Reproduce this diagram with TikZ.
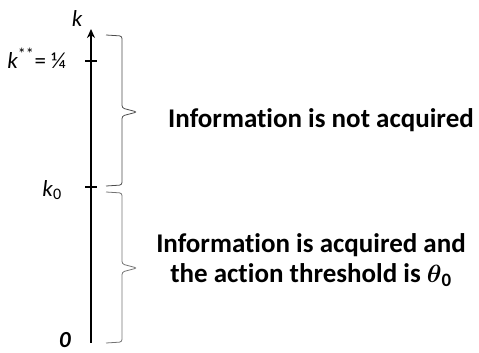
\documentclass[tikz,border=0pt]{standalone}
\usepackage{amsmath,amssymb}
\usepackage{fontspec}
\setmainfont{Carlito}[Ligatures=NoCommon]
\usetikzlibrary{arrows.meta}

\tikzset{
  axislab/.style={inner sep=0pt,font=\fontsize{23}{26}\selectfont},
  bracepath/.style={black!70,line width=0.8pt,rounded corners=2.5pt},
  infotext/.style={inner sep=0pt,align=center,font=\fontsize{27}{30}\selectfont\bfseries}
}

\begin{document}
\begin{tikzpicture}[x=1pt,y=1pt,>=Stealth]
\useasboundingbox (0,0) rectangle (479,353);
\coordinate (o) at (91,10);
\coordinate (top) at (91,324);
\coordinate (kss) at (91,292);
\coordinate (kz) at (91,166);
\draw[line width=2.2pt,-{Stealth[length=9pt,width=8pt]}] (o)--(top);
\draw[line width=1.5pt] (kss) ++(-6,0) -- ++(12,0)
  (kz) ++(-6,0) -- ++(12,0);
\node[axislab] (klab) at (77,334) {\itshape k};
\node[axislab,anchor=east] (ksslab) at (66,295) {\textit{k}\textsuperscript{**}= ¼};
\node[axislab] (kzlab) at (52,163) {\textit{k}\textsubscript{0}};
\node[axislab,anchor=north] (olab) at (65,21) {\itshape\bfseries 0};
%upper brace
\draw[bracepath] (106,318) -- (122,317) -- (122,245) -- (137,241) -- (122,237) -- (122,168) -- (106,167);
%lower brace
\draw[bracepath,black!55] (106,161) -- (122,160) -- (122,89) -- (137,85) -- (122,81) -- (122,11) -- (106,10);
\node[infotext] (notacq) at (321,233) {Information is not acquired};
\node[infotext] (acq) at (311,93) {Information is acquired and\\the action threshold is $\boldsymbol{\theta}_{\mathbf{0}}$};
\end{tikzpicture}
\end{document}
